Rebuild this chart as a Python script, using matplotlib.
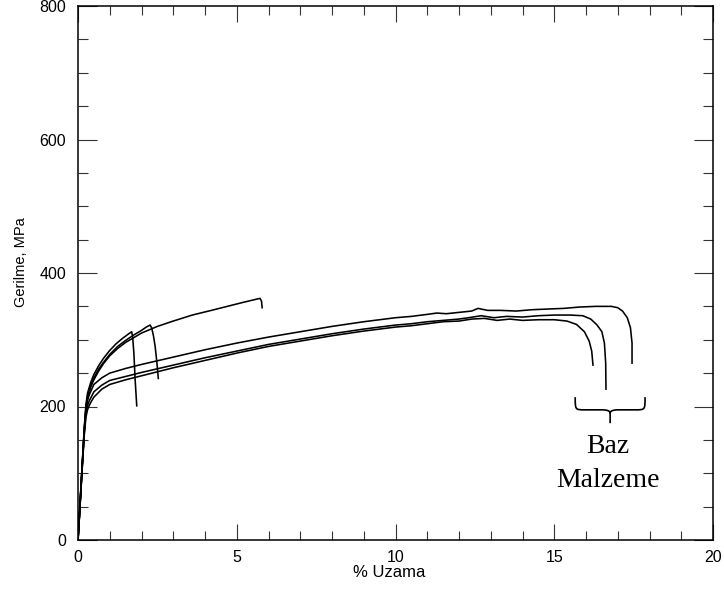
import matplotlib
matplotlib.use("Agg")
import matplotlib.pyplot as plt
from matplotlib.path import Path
from matplotlib.patches import PathPatch
from matplotlib.ticker import MultipleLocator

plt.rcParams['font.family'] = ['Liberation Sans', 'DejaVu Sans']

# Stress-strain test curves (strain in %, stress in MPa)
a1_strain = [0, 0.05, 0.1, 0.15, 0.2, 0.25, 0.3, 0.4, 0.5, 0.65, 0.8, 1.0, 1.2, 1.4, 1.6, 1.69,
             1.72, 1.76, 1.8, 1.85]
a1_stress = [0, 42, 86, 128, 170, 203, 220, 236, 248, 261, 272, 284, 294, 302, 309, 312,
             305, 280, 240, 201]

a2_strain = [0, 0.05, 0.1, 0.15, 0.2, 0.25, 0.3, 0.4, 0.5, 0.65, 0.8, 1.0, 1.25, 1.5, 1.75, 2.0,
             2.15, 2.27, 2.32, 2.38, 2.43, 2.48, 2.53]
a2_stress = [0, 41, 84, 126, 167, 198, 214, 231, 243, 256, 266, 278, 290, 299, 307, 314,
             319, 322, 318, 305, 290, 268, 242]

a3_strain = [0, 0.05, 0.1, 0.15, 0.2, 0.25, 0.3, 0.4, 0.5, 0.65, 0.8, 1.0, 1.25, 1.5, 2.0, 2.5,
             3.0, 3.6, 4.2, 4.7, 5.2, 5.73, 5.78, 5.8]
a3_stress = [0, 40, 83, 124, 165, 196, 212, 229, 240, 253, 264, 276, 287, 296, 310, 320,
             328, 337, 344, 350, 356, 362, 358, 348]

b1_strain = [0, 0.05, 0.1, 0.15, 0.2, 0.25, 0.3, 0.35, 0.5, 0.75, 1.0, 1.5, 2, 3, 4, 5, 6, 7, 8,
             9, 10, 10.5, 11, 11.3, 11.6, 12, 12.4, 12.6, 12.9, 13.3, 13.8, 14.3, 14.8, 15.3,
             15.8, 16.3, 16.8, 17.0, 17.15, 17.3, 17.4, 17.45, 17.45]
b1_stress = [0, 41, 84, 126, 167, 196, 209, 217, 233, 243, 250, 257, 263, 274, 285, 295, 304,
             312, 320, 327, 333, 335, 338, 340, 339, 341, 343, 347, 344, 344, 343, 345, 346,
             347, 349, 350, 350, 348, 343, 333, 318, 295, 265]

b2_strain = [0, 0.05, 0.1, 0.15, 0.2, 0.25, 0.3, 0.35, 0.5, 0.75, 1.0, 1.5, 2, 3, 4, 5, 6, 7, 8,
             9, 10, 10.5, 11, 11.5, 12, 12.3, 12.7, 13.1, 13.5, 14, 14.5, 15, 15.5, 15.9, 16.15,
             16.35, 16.5, 16.58, 16.62, 16.63]
b2_stress = [0, 40, 82, 124, 163, 190, 201, 208, 222, 232, 239, 245, 251, 262, 273, 283, 293,
             301, 309, 316, 322, 324, 327, 329, 331, 333, 336, 333, 335, 334, 336, 337, 337,
             336, 331, 322, 312, 295, 265, 226]

b3_strain = [0, 0.05, 0.1, 0.15, 0.2, 0.25, 0.3, 0.35, 0.4, 0.5, 0.75, 1.0, 1.5, 2, 3, 4, 5, 6,
             7, 8, 9, 10, 10.5, 11, 11.5, 12, 12.4, 12.8, 13.2, 13.6, 14, 14.5, 15, 15.4, 15.7,
             15.95, 16.1, 16.18, 16.22]
b3_stress = [0, 39, 80, 121, 158, 184, 195, 201, 206, 214, 226, 233, 240, 246, 258, 269, 280,
             290, 298, 306, 313, 319, 321, 324, 327, 328, 331, 332, 329, 331, 329, 330, 330,
             328, 323, 312, 298, 283, 262]

curves = [(a1_strain, a1_stress), (a2_strain, a2_stress), (a3_strain, a3_stress),
          (b1_strain, b1_stress), (b2_strain, b2_stress), (b3_strain, b3_stress)]

x_label = "% Uzama"
y_label = "Gerilme, MPa"
note_lines = ["Baz", "Malzeme"]

fig = plt.figure(figsize=(7.24, 5.90), dpi=100)
ax = fig.add_axes([78 / 724, 50 / 590, 635 / 724, 534 / 590])

for xs, ys in curves:
    ax.plot(xs, ys, color='black', lw=1.15, solid_joinstyle='round')

ax.set_xlim(0, 20)
ax.set_ylim(0, 800)
ax.xaxis.set_major_locator(MultipleLocator(5))
ax.xaxis.set_minor_locator(MultipleLocator(1))
ax.yaxis.set_major_locator(MultipleLocator(200))
ax.yaxis.set_minor_locator(MultipleLocator(50))

ax.tick_params(axis='both', which='both', direction='in', top=True, right=True,
               color='#333333', width=0.8, labelsize=11.5)
ax.tick_params(axis='x', which='major', length=11.5, pad=7.5)
ax.tick_params(axis='x', which='minor', length=6.2)
ax.tick_params(axis='y', which='major', length=14, pad=8.5)
ax.tick_params(axis='y', which='minor', length=7.2)

for sp in ax.spines.values():
    sp.set_linewidth(1.1)

ax.set_xlabel(x_label, fontsize=12)
ax.xaxis.set_label_coords(0.49, -0.046)
ax.set_ylabel(y_label, fontsize=10.5)
ax.yaxis.set_label_coords(-0.079, 0.52)

# curly brace grouping the base-material curves
xc, w = 16.76, 1.1
y_top, y_mid, y_cusp, y_tip = 214, 195, 190, 175
verts = [
    (xc - w, y_top), (xc - w, y_mid), (xc - w, y_mid), (xc - w + 0.3, y_mid),
    (xc - 0.25, y_mid),
    (xc, y_mid), (xc, y_cusp),
    (xc, y_mid), (xc + 0.25, y_mid),
    (xc + w - 0.3, y_mid),
    (xc + w, y_mid), (xc + w, y_mid), (xc + w, y_top),
    (xc, y_cusp), (xc, y_tip),
]
codes = [
    Path.MOVETO, Path.CURVE4, Path.CURVE4, Path.CURVE4,
    Path.LINETO,
    Path.CURVE3, Path.CURVE3,
    Path.CURVE3, Path.CURVE3,
    Path.LINETO,
    Path.CURVE4, Path.CURVE4, Path.CURVE4,
    Path.MOVETO, Path.LINETO,
]
ax.add_patch(PathPatch(Path(verts, codes), fill=False, lw=1.2, color='black',
                       capstyle='butt', clip_on=False))

serif = ['Liberation Serif', 'DejaVu Serif']
ax.text(16.69, 130, note_lines[0], ha='center', va='baseline', fontsize=20, family=serif)
ax.text(16.69, 79, note_lines[1], ha='center', va='baseline', fontsize=20, family=serif)

fig.savefig("out.png", dpi=100)
